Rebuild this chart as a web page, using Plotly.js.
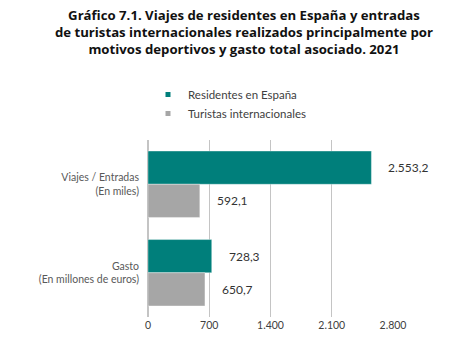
<!DOCTYPE html>
<html><head><meta charset="utf-8">
<script src="https://cdn.plot.ly/plotly-3.0.1.min.js"></script>
<style>html,body{margin:0;padding:0;background:#fff}#chart{width:456px;height:355px}</style>
</head><body><div id="chart"></div>
<script>
const categories = ['Viajes / Entradas<br>(En miles)', 'Gasto<br>(En millones de euros)'];
const seriesNames = ['Residentes en España', 'Turistas internacionales'];
const residentes = [2553.2, 728.3];
const turistas = [592.1, 650.7];
const tickVals = [0, 700, 1400, 2100, 2800];
const tickText = ['0', '700', '1.400', '2.100', '2.800'];
const colors = ['#007f7b', '#a6a6a6'];

function fmt(v){
  const parts = v.toFixed(1).split('.');
  const intPart = parts[0].replace(/\B(?=(\d{3})+(?!\d))/g, '.');
  return intPart + ',' + parts[1];
}

const FONT = 'Lato, "Open Sans", sans-serif';
const TFONT = '"Open Sans", Lato, sans-serif';
const series = [residentes, turistas];
const traces = [];
series.forEach((vals, i) => {
  traces.push({
    type: 'bar', orientation: 'h', name: seriesNames[i],
    x: vals, y: categories,
    marker: {color: colors[i], line: {color: 'rgba(255,255,255,0.6)', width: 0.6}},
    showlegend: false, hoverinfo: 'x'
  });
});
series.forEach((vals, i) => {
  traces.push({
    type: 'scatter', mode: 'markers', name: seriesNames[i],
    x: [null], y: [null],
    marker: {symbol: 'square', size: 5, color: colors[i]},
    showlegend: true, hoverinfo: 'skip'
  });
});

const annotations = [];
const barGap = 0.25;
const half = (1 - barGap) / 2;
series.forEach((vals, i) => {
  const off = (i === 0 ? -1 : 1) * half / 2;
  vals.forEach((v, j) => {
    annotations.push({
      x: v, y: j + off, xref: 'x', yref: 'y',
      text: fmt(v), showarrow: false, xanchor: 'left', yanchor: 'middle',
      xshift: 15, font: {family: FONT, size: 12, color: '#333333'}
    });
  });
});

const layout = {
  width: 456, height: 355,
  margin: {l: 148, r: 63, t: 140, b: 38},
  paper_bgcolor: '#ffffff', plot_bgcolor: '#ffffff',
  separators: ',.',
  font: {family: FONT, size: 10.5, color: '#404040'},
  title: {
    text: '<b>Gráfico 7.1. Viajes de residentes en España y entradas<br>de turistas internacionales realizados principalmente por<br>motivos deportivos y gasto total asociado. 2021</b>',
    x: 0.535, xref: 'container', xanchor: 'center',
    y: 1 - 20/355, yref: 'container', yanchor: 'top',
    font: {family: TFONT, size: 13.2, color: '#111111'}
  },
  barmode: 'group', bargap: barGap, bargroupgap: 0,
  xaxis: {
    range: [0, 2800], tickvals: tickVals, ticktext: tickText,
    showgrid: true, gridcolor: '#c4c4c4', gridwidth: 1.3,
    zeroline: true, zerolinecolor: '#c4c4c4', zerolinewidth: 1.3,
    showline: false, ticks: '', fixedrange: true,
    tickfont: {family: FONT, size: 10.5, color: '#404040'}
  },
  yaxis: {
    autorange: 'reversed', type: 'category',
    showgrid: false, zeroline: false, showline: false, ticks: '',
    ticklabelstandoff: 8,
    tickfont: {family: FONT, size: 10.5, color: '#595959'}
  },
  legend: {
    x: (148 - 148) / 245, xref: 'paper', xanchor: 'left',
    y: 1 - 80/355, yref: 'container', yanchor: 'top',
    orientation: 'v', itemwidth: 30,
    font: {family: FONT, size: 11.5, color: '#404040'},
    bgcolor: 'rgba(0,0,0,0)', tracegroupgap: 0
  },
  annotations: annotations
};

Plotly.newPlot('chart', traces, layout, {displayModeBar: false, staticPlot: true});
</script></body></html>
